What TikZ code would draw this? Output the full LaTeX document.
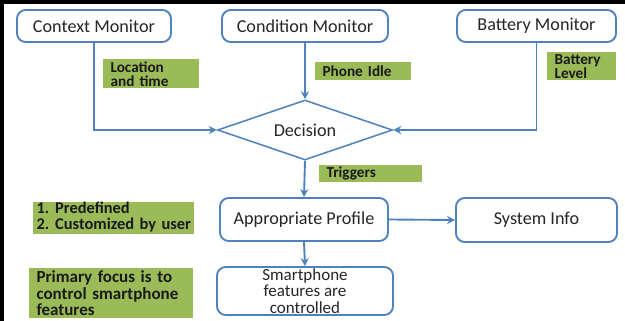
\documentclass[tikz,border=0pt]{standalone}
\usepackage{fontspec}
\setmainfont{Carlito}
\usetikzlibrary{arrows.meta}
\usetikzlibrary{shapes.geometric}
\definecolor{offblue}{RGB}{79,129,189}
\definecolor{offgreen}{RGB}{155,187,89}
\definecolor{txt}{RGB}{38,38,38}
\tikzset{box/.style={draw=offblue,line width=1.6pt,rounded corners=2.6mm,fill=white,
  text=txt,font=\fontsize{15.5}{14}\selectfont,align=center,inner sep=0pt}}
\tikzset{glabel/.style={fill=offgreen,text=black!90,font=\fontsize{13}{12}\selectfont\bfseries,
  align=left,inner xsep=2.2mm,inner ysep=0pt,anchor=north west}}
\tikzset{flow/.style={draw=offblue,line width=1.6pt,-{Stealth[length=2.4mm,width=2.4mm]}}}

\begin{document}
\begin{tikzpicture}[x=0.3mm,y=-0.3mm]
      \useasboundingbox (0,0) rectangle (625,321);
      \draw[line width=1.2mm] (2,321) -- (2,2) -- (625,2);
      % top row
      \node[box,minimum width=46.2mm,minimum height=9.6mm] (ctx) at (94,26) {Context Monitor};
      \node[box,minimum width=49.8mm,minimum height=9.6mm] (cond) at (305,26) {Condition Monitor};
      \node[box,minimum width=47.7mm,minimum height=9.6mm] (batt) at (536.5,26) {Battery Monitor};
      \node[diamond,draw=offblue,line width=1.3pt,aspect=3,inner sep=0pt,text=txt,
        font=\fontsize{15.5}{14}\selectfont,minimum width=52.5mm,minimum height=18mm] (dec) at (305,130) {Decision};
      % lower part
      \node[box,minimum width=50.4mm,minimum height=12.9mm] (prof) at (304,219.5) {Appropriate Profile};
      \node[box,minimum width=48.3mm,minimum height=13.2mm] (sys) at (536.5,220) {System Info};
      \node[box,minimum width=52.8mm,minimum height=14.4mm,font=\fontsize{14.5}{13.8}\selectfont] (smart) at (305,291)
        {Smartphone\\features are\\controlled};
      % green labels
      \node[glabel,text width=24.4mm,minimum height=8.7mm] (loc) at (103,59) {Location\\and time};
      \node[glabel,text width=24.4mm,minimum height=5.4mm] (idle) at (315,62) {Phone Idle};
      \node[glabel,text width=16.3mm,minimum height=8.4mm] (lvl) at (547,52) {Battery\\Level};
      \node[glabel,text width=26.5mm,minimum height=5.1mm] (trig) at (319,165) {Triggers};
      \node[glabel,text width=46.3mm,minimum height=8.7mm,inner xsep=1mm,font=\fontsize{14}{12}\selectfont\bfseries] (kinds) at (33,202)
        {\begin{tabular}{@{}l@{\hspace{1.8mm}}l@{}}1.&Predefined\\2.&Customized by user\end{tabular}};
      \node[glabel,text width=44.8mm,minimum height=15mm,font=\fontsize{14.5}{13.8}\selectfont\bfseries] (focus) at (29,268)
        {Primary focus is to\\control smartphone\\features};
      % connectors
      \draw[flow] (ctx.south) |- (dec.west);
      \draw[flow] (cond.south) -- (dec.north);
      \draw[flow] (batt.south) |- (dec.east);
      \draw[flow] (dec.south) -- (prof.north);
      \draw[flow] (prof.east) -- (sys.west);
      \draw[flow] (prof.south) -- (smart.north);
\end{tikzpicture}
\end{document}
